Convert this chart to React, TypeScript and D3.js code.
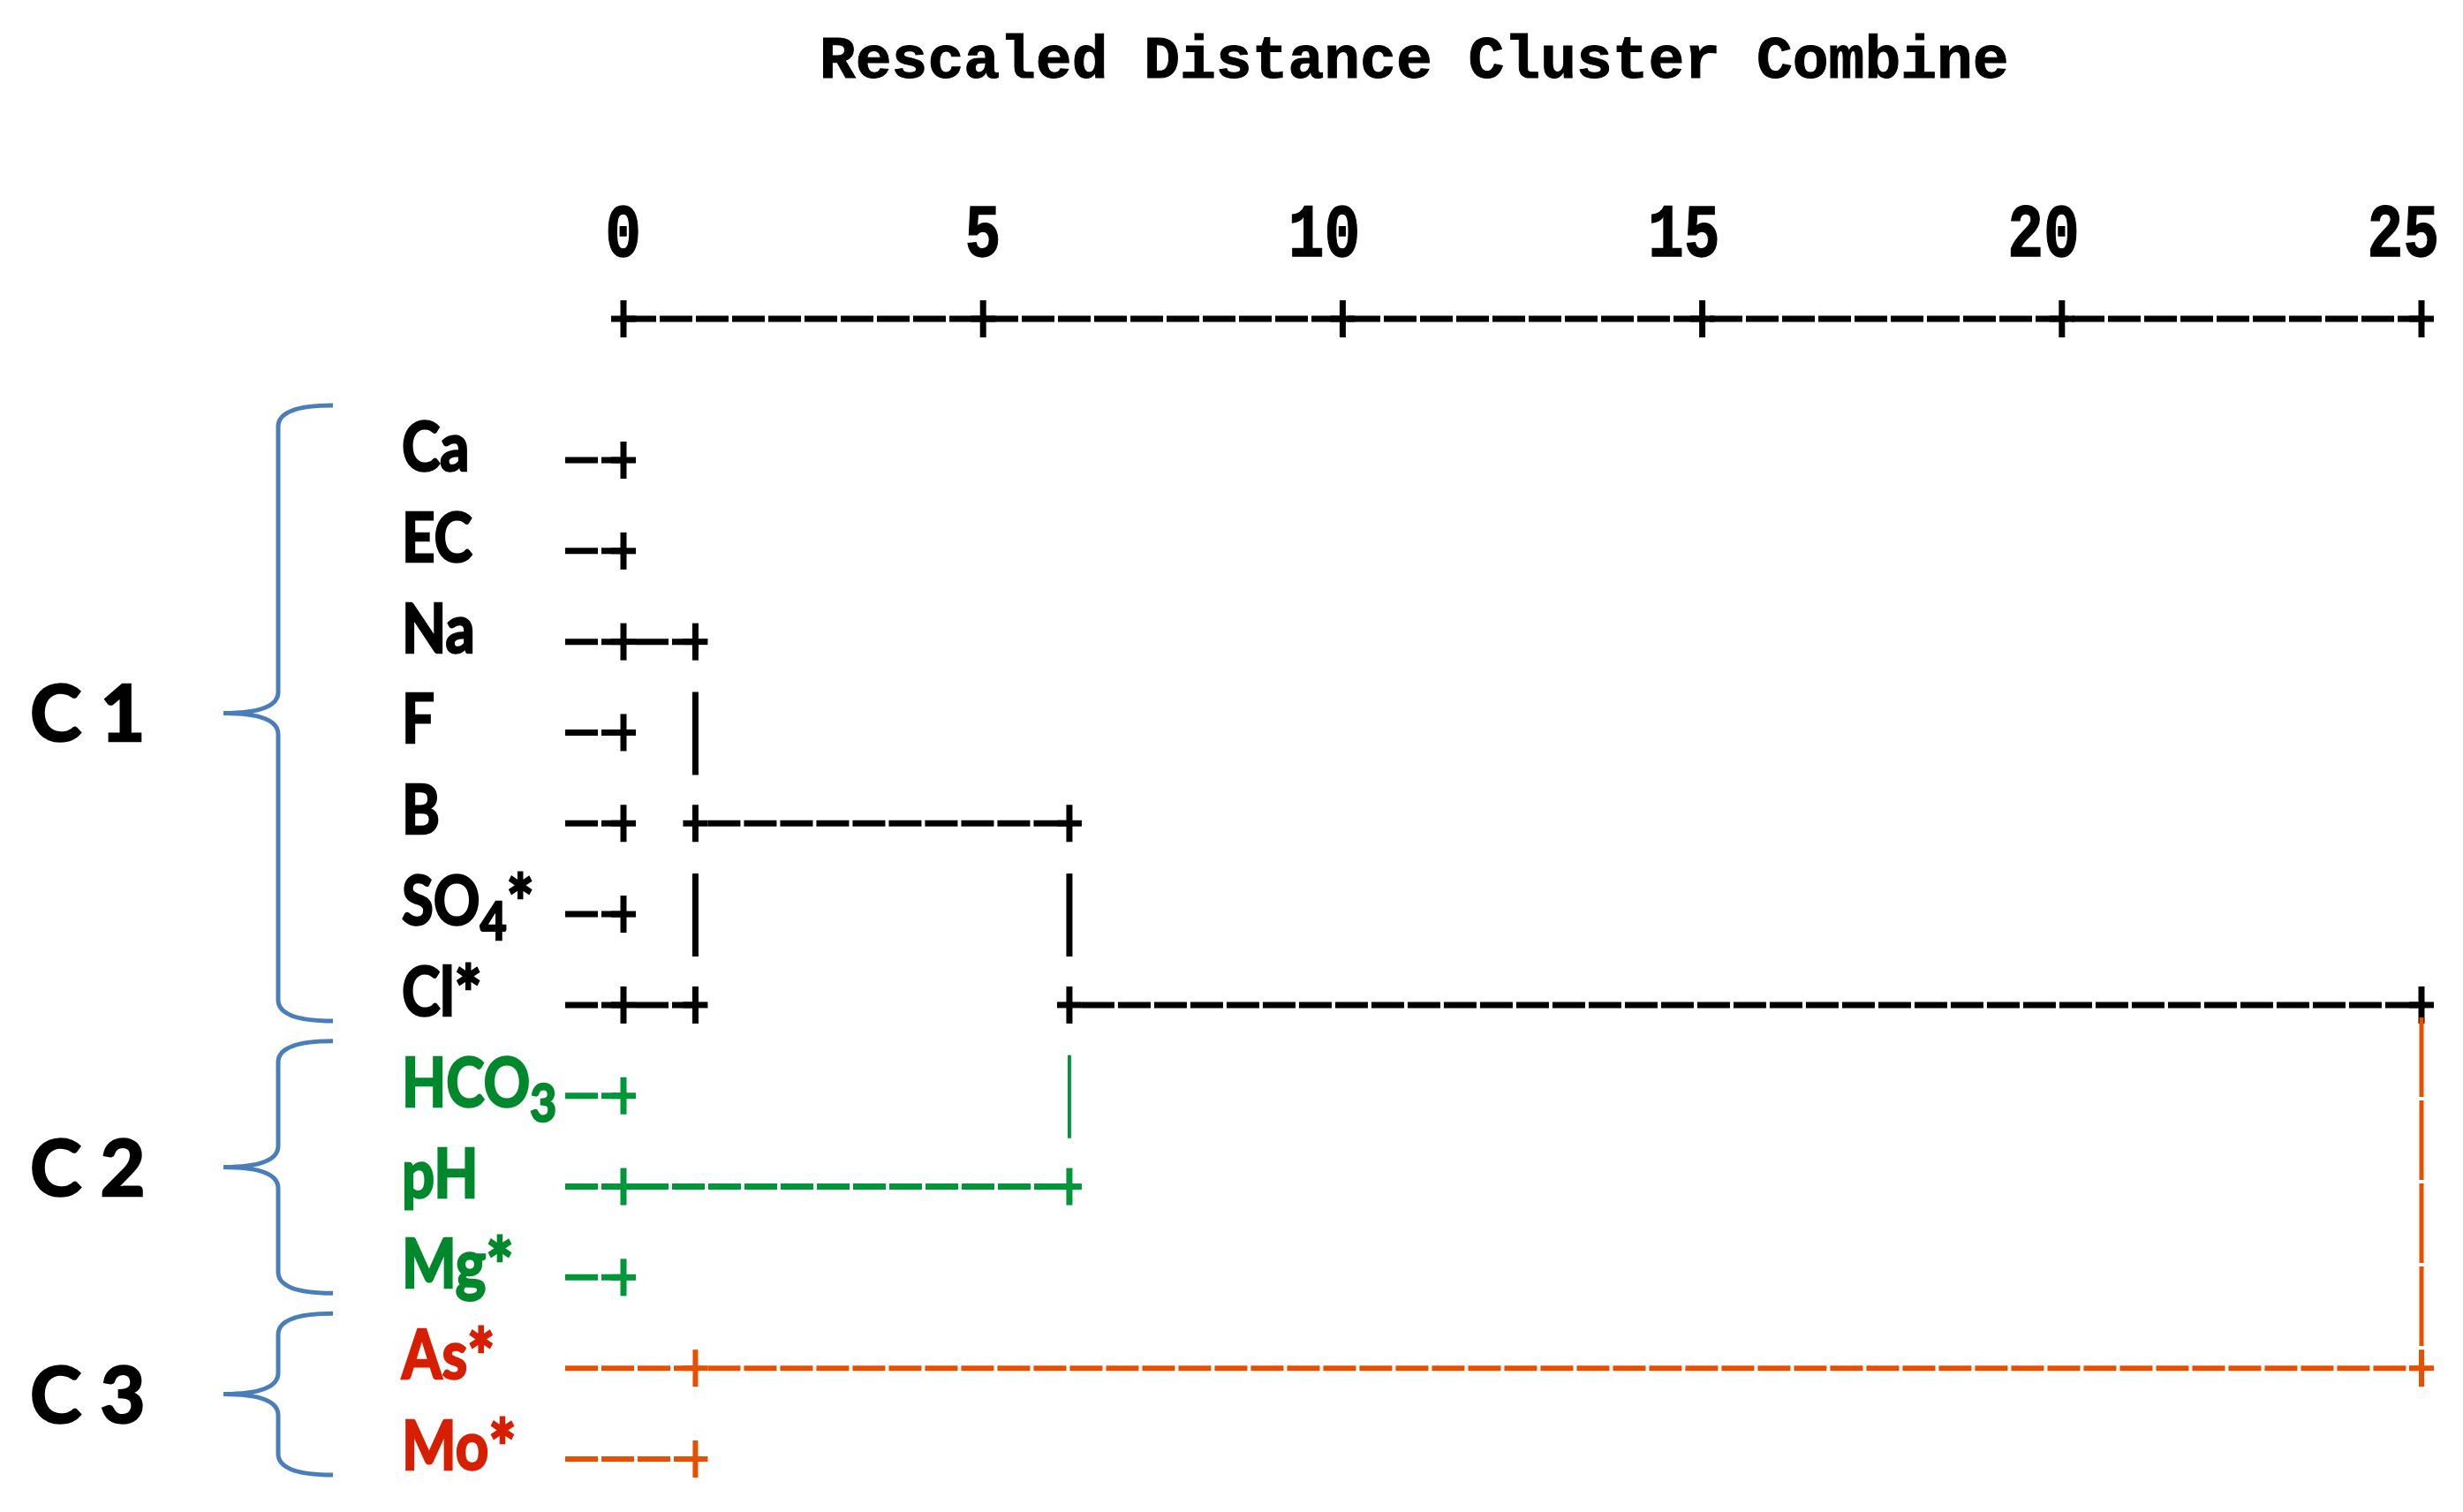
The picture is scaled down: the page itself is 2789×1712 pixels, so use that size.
import React from 'react';
import * as d3 from 'd3';

const W = 2789;
const H = 1712;

// leaves, top to bottom, as in the dendrogram
const labels = ['Ca', 'EC', 'Na', 'F', 'B', 'SO4*', 'Cl*', 'HCO3', 'pH', 'Mg*', 'As*', 'Mo*'];
const clusterNames = ['C 1', 'C 2', 'C 3'];
const clusterOf = [0, 0, 0, 0, 0, 0, 0, 1, 1, 1, 2, 2];
// rescaled distance where each leaf line ends in its first "+"
const leafJoin = [0, 0, 0, 0, 0, 0, 0, 0, 0, 0, 1, 1];

// merges: upper child (row, distance it starts from), lower child, merge distance,
// row that carries the merged cluster on, and cluster that colours the link (-1 = by row)
const mergeUpperRow = [2, 4, 6];
const mergeUpperFrom = [0, 1, 6.2];
const mergeLowerRow = [6, 8, 10];
const mergeLowerFrom = [0, 0, 1];
const mergeAt = [1, 6.2, 25];
const mergeJoinRow = [4, 6, -1];
const mergeLinkCluster = [-1, -1, 2];

const axisTicks = [0, 5, 10, 15, 20, 25];
const title = 'Rescaled Distance Cluster Combine';

// styles
const labelColor = ['#000000', '#00882c', '#d81e00'];
const lineColor = ['#000000', '#00963a', '#e65000'];
const hWidth = [7, 7, 6];
const vWidth = [7, 4, 5];
const braceColor = '#4a7ebb';
const dash = '37 4';
const sans = "Lato, 'Open Sans', sans-serif";
const mono = "'Liberation Mono', monospace";

const x = d3.scaleLinear().domain([0, 25]).range([706, 2742]);
const y = d3.scalePoint<number>().domain(d3.range(labels.length)).range([521, 1652]);

const Plus = ({ cx, cy, color, sw }: { cx: number; cy: number; color: string; sw: number }) => (
  <g stroke={color} strokeWidth={sw}>
    <line x1={cx - 14} x2={cx + 14} y1={cy} y2={cy} />
    <line x1={cx} x2={cx} y1={cy - 21} y2={cy + 21} />
  </g>
);

const RowLabel = ({ text, yy, color }: { text: string; yy: number; color: string }) => {
  const parts = text.split(/(\d|\*)/).filter((p) => p !== '');
  let shifted = false;
  return (
    <text
      transform={`translate(455,${yy + 12}) scale(0.86,1)`}
      fill={color}
      stroke={color}
      strokeWidth={2.5}
      fontFamily={sans}
      fontWeight="bold"
      fontSize={76}
    >
      {parts.map((p, i) => {
        if (/\d/.test(p)) {
          shifted = true;
          return (
            <tspan key={i} dy={17} fontSize={60}>
              {p}
            </tspan>
          );
        }
        const star = p === '*';
        const dy = (shifted ? -17 : 0) + (star ? 6 : 0);
        shifted = false;
        return (
          <tspan key={i} dy={dy} fontSize={star ? 86 : 76}>
            {p}
          </tspan>
        );
      })}
    </text>
  );
};

const bracePath = (top: number, bottom: number) => {
  const xe = 377, xv = 315, xt = 253, r = 24;
  const mid = (top + bottom) / 2;
  return `M${xe},${top} Q${xv},${top} ${xv},${top + r} L${xv},${mid - r} Q${xv},${mid} ${xt},${mid} ` +
    `Q${xv},${mid} ${xv},${mid + r} L${xv},${bottom - r} Q${xv},${bottom} ${xe},${bottom}`;
};

export default function App() {
  const rows = d3.range(labels.length);
  const leafStart = x(0) - 66;

  return (
    <svg width={W} height={H} style={{ position: 'absolute', left: 0, top: 0, background: '#fff' }}>
      {/* title */}
      <text x={928} y={88} fontFamily={mono} fontWeight="bold" fontSize={68} stroke="#000" strokeWidth={1}>
        {title}
      </text>

      {/* axis */}
      {axisTicks.map((t) => (
        <text
          key={'tl' + t}
          transform={`translate(${x(t) + 20},290) scale(1,1.25)`}
          textAnchor="end"
          fontFamily={mono}
          fontWeight="bold"
          fontSize={68}
          stroke="#000"
          strokeWidth={1}
        >
          {t}
        </text>
      ))}
      <line x1={x(0)} x2={x(25)} y1={361} y2={361} stroke="#000" strokeWidth={7} strokeDasharray={dash} />
      {axisTicks.map((t) => (
        <Plus key={'tp' + t} cx={x(t)} cy={361} color="#000" sw={7} />
      ))}

      {/* cluster braces */}
      {clusterNames.map((name, c) => {
        const members = rows.filter((r) => clusterOf[r] === c);
        const top = y(members[0])! - 62;
        const bottom = y(members[members.length - 1])! + 18;
        const mid = (top + bottom) / 2;
        return (
          <g key={name}>
            <path d={bracePath(top, bottom)} fill="none" stroke={braceColor} strokeWidth={5} />
            <text x={34} y={mid + 32} fontFamily={sans} fontWeight="bold" fontSize={88} stroke="#000" strokeWidth={2.5}>
              {name}
            </text>
          </g>
        );
      })}

      {/* leaf labels and leaf lines */}
      {rows.map((r) => {
        const c = clusterOf[r];
        const yy = y(r)!;
        return (
          <g key={'leaf' + r}>
            <RowLabel text={labels[r]} yy={yy} color={labelColor[c]} />
            <line x1={leafStart} x2={x(leafJoin[r])} y1={yy} y2={yy} stroke={lineColor[c]} strokeWidth={hWidth[c]} strokeDasharray={dash} />
            <Plus cx={x(leafJoin[r])} cy={yy} color={lineColor[c]} sw={hWidth[c]} />
          </g>
        );
      })}

      {/* merges */}
      {mergeAt.map((d, m) => {
        const xm = x(d);
        const children = [
          [mergeUpperRow[m], mergeUpperFrom[m]],
          [mergeLowerRow[m], mergeLowerFrom[m]],
        ];
        const between = d3.range(mergeUpperRow[m] + 1, mergeLowerRow[m]);
        const link = mergeLinkCluster[m];
        return (
          <g key={'m' + m}>
            {children.map(([r, from]) => {
              const c = clusterOf[r];
              return (
                <g key={'c' + r}>
                  <line x1={x(from) + 14} x2={xm} y1={y(r)!} y2={y(r)!} stroke={lineColor[c]} strokeWidth={hWidth[c]} strokeDasharray={dash} />
                  <Plus cx={xm} cy={y(r)!} color={lineColor[c]} sw={hWidth[c]} />
                </g>
              );
            })}
            {link >= 0 ? (
              <line
                x1={xm}
                x2={xm}
                y1={y(mergeUpperRow[m])! + 14}
                y2={y(mergeLowerRow[m])! - 22}
                stroke={lineColor[link]}
                strokeWidth={vWidth[link]}
                strokeDasharray="90 4"
              />
            ) : (
              between.map((r) => {
                const c = clusterOf[r];
                return r === mergeJoinRow[m] ? (
                  <Plus key={'j' + r} cx={xm} cy={y(r)!} color={lineColor[c]} sw={hWidth[c]} />
                ) : (
                  <line key={'v' + r} x1={xm} x2={xm} y1={y(r)! - 46} y2={y(r)! + 48} stroke={lineColor[c]} strokeWidth={vWidth[c]} />
                );
              })
            )}
          </g>
        );
      })}
    </svg>
  );
}
